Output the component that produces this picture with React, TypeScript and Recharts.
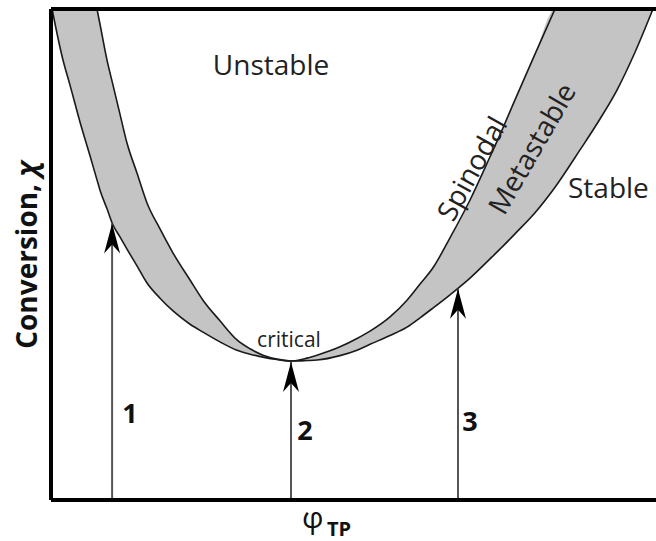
import { ComposedChart, Area, Line, XAxis, YAxis, ReferenceLine } from 'recharts';

// volume fraction of thermoplastic (0-100 across the plot)
const phi = [0.17, 1.98, 3.14, 4.79, 6.45, 7.6, 8.1, 9.26, 10.25, 11.4, 12.56, 14.21, 15.87, 18.02, 20.17, 22.98, 25.12, 27.93, 30.74, 32.89, 35.04, 37.36, 39.67, 42.31, 43.97, 47.77, 50.58, 52.73, 56.03, 58.84, 61.0, 63.14, 65.95, 69.26, 72.56, 74.71, 76.69, 80.0, 83.31, 87.44, 90.74, 93.55, 96.53, 99.5];
// outer curve (binodal)
const binodal = [100, 89.6, 84.5, 77.0, 70.1, 65.2, 63.1, 59.3, 56.0, 53.6, 51.1, 47.7, 44.2, 41.1, 38.5, 35.8, 34.2, 32.2, 30.5, 29.7, 29.1, 28.6, 28.3, 28.4, 28.5, 29.4, 30.5, 31.7, 33.5, 35.2, 37.1, 39.1, 41.8, 45.2, 49.1, 51.7, 54.2, 58.5, 63.7, 71.3, 77.6, 83.5, 91.2, 100];
// inner curve (spinodal), null where it runs above the plot
const spinodal = [null, null, null, null, null, 100, 96.9, 89.6, 84.5, 78.6, 72.7, 66.6, 60.5, 55.2, 50.3, 44.8, 40.7, 36.5, 32.6, 30.8, 29.5, 28.7, 28.3, 28.9, 29.5, 31.2, 32.9, 34.4, 37.3, 40.7, 44.0, 47.3, 53.4, 61.1, 69.9, 75.8, 81.5, 90.8, 100, null, null, null, null, null];

// cure paths 1, 2, 3
const arrowPhi = [10.1, 39.67, 67.27];
const arrowTip = [56.3, 28.1, 43.0];

const Y_MAX = 100;

const data = phi.map((p, i) => ({
  phi: p,
  bin: binodal[i],
  spin: spinodal[i],
  band: [binodal[i], spinodal[i] ?? Y_MAX],
}));

const arrows = arrowPhi.map((p, i) => [
  { phi: p, chi: 0 },
  { phi: p, chi: arrowTip[i] },
]);

const ArrowHead = (props: any) => {
  const { cx, cy, index } = props;
  if (index !== 1 || cx == null || cy == null) return <g key={`n-${index}`} />;
  return (
    <path
      key={`h-${index}`}
      d={`M${cx},${cy} L${cx + 8},${cy + 30} L${cx},${cy + 21} L${cx - 8},${cy + 30} Z`}
      fill="#000"
    />
  );
};

const FONT = '"Open Sans", "DejaVu Sans", sans-serif';

export default function App() {
  return (
    <div style={{ position: 'absolute', left: 0, top: 0, width: 656, height: 541, background: '#fff' }}>
      <ComposedChart width={656} height={541} data={data} margin={{ top: 9, right: 0, left: 51, bottom: 41 }}>
        <XAxis dataKey="phi" type="number" domain={[0, 100]} height={0} tick={false} tickLine={false} axisLine={false} />
        <YAxis type="number" domain={[0, Y_MAX]} width={0} tick={false} tickLine={false} axisLine={false} />
        <Area
          dataKey="band"
          type="monotone"
          stroke="none"
          fill="#c4c4c4"
          fillOpacity={1}
          isAnimationActive={false}
        />
        <Line dataKey="bin" type="monotone" stroke="#1a1a1a" strokeWidth={1.6} dot={false} isAnimationActive={false} />
        <Line dataKey="spin" type="monotone" stroke="#1a1a1a" strokeWidth={1.6} dot={false} isAnimationActive={false} />
        {arrows.map((a, i) => (
          <Line
            key={`arrow-${i}`}
            data={a}
            dataKey="chi"
            type="linear"
            stroke="#555"
            strokeWidth={2}
            dot={ArrowHead}
            activeDot={false}
            isAnimationActive={false}
          />
        ))}
        <ReferenceLine y={Y_MAX} stroke="#000" strokeWidth={4} />
        <ReferenceLine y={0} stroke="#000" strokeWidth={4} />
        <ReferenceLine x={0} stroke="#000" strokeWidth={4} />
      </ComposedChart>
      <svg
        width={656}
        height={541}
        style={{ position: 'absolute', left: 0, top: 0, pointerEvents: 'none' }}
        fontFamily={FONT}
      >
        <text x={271} y={75} textAnchor="middle" fontSize={28} fill="#222">Unstable</text>
        <text x={568} y={198} textAnchor="start" fontSize={28} fill="#222">Stable</text>
        <text x={289} y={347} textAnchor="middle" fontSize={21} fill="#222">critical</text>
        <text
          transform="translate(471,168) rotate(-61)"
          textAnchor="middle"
          dominantBaseline="central"
          fontSize={28}
          fill="#222"
        >
          Spinodal
        </text>
        <text
          transform="translate(531,148) rotate(-60)"
          textAnchor="middle"
          dominantBaseline="central"
          fontSize={28}
          fill="#222"
        >
          Metastable
        </text>
        <text x={130} y={423} textAnchor="middle" fontSize={27} fontWeight="bold" fill="#111">1</text>
        <text x={305} y={440} textAnchor="middle" fontSize={27} fontWeight="bold" fill="#111">2</text>
        <text x={470} y={431} textAnchor="middle" fontSize={27} fontWeight="bold" fill="#111">3</text>
        <text transform="translate(37,255) rotate(-90)" textAnchor="middle" fontSize={28} fontWeight="bold" fill="#111">
          Conversion, <tspan fontStyle="italic">χ</tspan>
        </text>
        <text x={302} y={528} fontSize={30} fill="#111">φ</text>
        <text x={327} y={536} fontSize={20} fontWeight="bold" fill="#111">TP</text>
      </svg>
    </div>
  );
}
